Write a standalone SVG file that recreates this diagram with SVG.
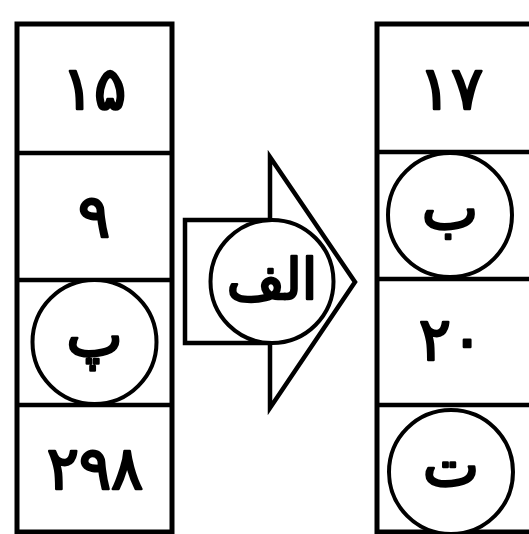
<svg xmlns="http://www.w3.org/2000/svg" width="529" height="534" viewBox="0 0 529 534">
<style>
.box{fill:#fff;stroke:#000;stroke-width:5}
.ln{fill:none;stroke:#000;stroke-width:4.5;stroke-linejoin:miter}
.c{fill:#fff;stroke:#000;stroke-width:4}
.t{font-family:"DejaVu Sans",sans-serif;font-weight:normal;font-size:60px;text-anchor:middle;fill:#000;stroke:#000;stroke-width:2.5;stroke-linejoin:round}
</style>
<rect width="529" height="534" fill="#fff"/>
<g id="left-column">
<rect class="box" x="17" y="24" width="155" height="508"/>
<line class="ln" x1="17" y1="153" x2="172" y2="153"/>
<line class="ln" x1="17" y1="280" x2="172" y2="280"/>
<line class="ln" x1="17" y1="405" x2="172" y2="405"/>
</g>
<g id="cell-15"><text class="t" x="94" y="109">۱۵</text></g>
<g id="cell-9"><text class="t" x="94" y="237">۹</text></g>
<g id="cell-pe"><circle class="c" cx="94.5" cy="342" r="62"/><text class="t" x="94.5" y="356">پ</text></g>
<g id="cell-298"><text class="t" x="95" y="489">۲۹۸</text></g>
<g id="right-column">
<rect class="box" x="377" y="24" width="160" height="508"/>
<line class="ln" x1="377" y1="152" x2="537" y2="152"/>
<line class="ln" x1="377" y1="279" x2="537" y2="279"/>
<line class="ln" x1="377" y1="405" x2="537" y2="405"/>
</g>
<g id="cell-17"><text class="t" x="451" y="109">۱۷</text></g>
<g id="cell-be"><circle class="c" cx="450" cy="215" r="62"/><text class="t" x="450" y="229">ب</text></g>
<g id="cell-20"><text class="t" x="451" y="360">۲۰</text></g>
<g id="cell-te"><circle class="c" cx="451" cy="472" r="62"/><text class="t" x="451" y="486">ت</text></g>
<g id="arrow">
<path class="ln" d="M270 220 H185 V343 H270"/>
<path class="ln" d="M270 157 L355 282 L270 408 Z"/>
<circle class="c" cx="272" cy="281.5" r="61.5"/>
<text class="t" x="272" y="299" style="font-size:56px">الف</text>
</g>
</svg>
